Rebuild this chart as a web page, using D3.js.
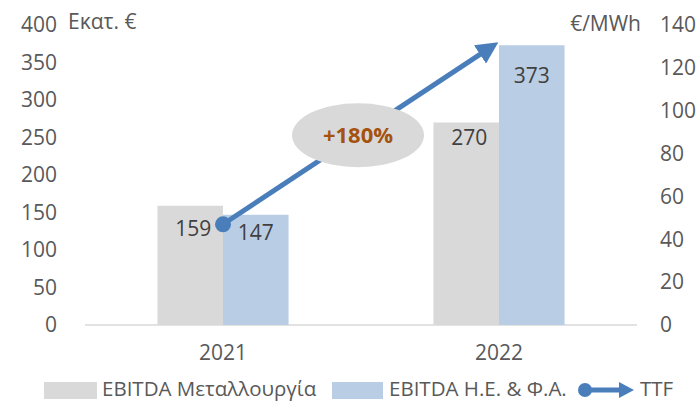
<!DOCTYPE html>
<meta charset="utf-8" />
<title>EBITDA vs TTF</title>
<script src="https://d3js.org/d3.v7.min.js"></script>
<style>
    body { margin: 0; background: #fff; }
    text { font-family: 'Open Sans', sans-serif; fill: #595959; }
    .tick text { font-size: 21px; }
    .lbl { font-size: 21px; fill: #404040; }
</style>
<svg id="chart" width="698" height="402"></svg>
<script>
var years = ['2021', '2022'];
var metal = [159, 270];
var energy = [147, 373];
var ttf = [47, 132];
var leftTicks = [0, 50, 100, 150, 200, 250, 300, 350, 400];
var rightTicks = [0, 20, 40, 60, 80, 100, 120, 140];
var seriesNames = ['EBITDA Μεταλλουργία', 'EBITDA Η.Ε. & Φ.Α.', 'TTF'];
var growthLabel = '+180%';

var svg = d3.select('#chart');
var margin = { top: 25, right: 61, bottom: 77, left: 85 },
    width = 698 - margin.left - margin.right,
    height = 402 - margin.top - margin.bottom;

var g = svg.append('g').attr('transform', 'translate(' + margin.left + ',' + margin.top + ')');

var x0 = d3.scaleBand().domain(years).range([0, width]).paddingInner(0.525).paddingOuter(0.2625);
var x1 = d3.scaleBand().domain([0, 1]).range([0, x0.bandwidth()]);
var y = d3.scaleLinear().domain([0, 400]).range([height, 0]);
var yR = d3.scaleLinear().domain([0, 140]).range([height, 0]);

// axes
var yAxis = g.append('g').call(d3.axisLeft(y).tickValues(leftTicks).tickSize(0).tickPadding(28));
yAxis.select('.domain').remove();
var yAxisR = g.append('g').attr('transform', 'translate(' + width + ',0)')
    .call(d3.axisRight(yR).tickValues(rightTicks).tickSize(0).tickPadding(23));
yAxisR.select('.domain').remove();
yAxisR.selectAll('text').attr('text-anchor', 'start');

g.append('line').attr('x1', 0).attr('x2', width).attr('y1', y(0)).attr('y2', y(0))
    .style('stroke', '#d9d9d9').style('stroke-width', 1.5);

var xAxis = g.append('g').attr('transform', 'translate(0,' + height + ')')
    .call(d3.axisBottom(x0).tickSize(0).tickPadding(20));
xAxis.select('.domain').remove();

// bars
var colors = ['#d9d9d9', '#b9cde5'];
var series = [metal, energy];
var labelDy = [[30, 25], [22, 38]];
series.forEach(function(vals, s) {
    g.selectAll('.bar' + s).data(vals).enter().append('rect')
        .attr('x', function(d, i) { return x0(years[i]) + x1(s); })
        .attr('width', x1.bandwidth())
        .attr('y', function(d) { return y(d); })
        .attr('height', function(d) { return height - y(d); })
        .style('fill', colors[s]);
    g.selectAll('.lbl' + s).data(vals).enter().append('text')
        .attr('class', 'lbl')
        .attr('text-anchor', 'middle')
        .attr('x', function(d, i) { return x0(years[i]) + x1(s) + x1.bandwidth() / 2 + (s == 0 ? 3 : 0); })
        .attr('y', function(d, i) { return y(d) + labelDy[i][s]; })
        .text(function(d) { return d; });
});

// TTF arrow
var lineColor = '#4a7ebb';
var defs = svg.append('defs');
defs.append('marker').attr('id', 'arr').attr('viewBox', '0 0 10 10')
    .attr('refX', 6).attr('refY', 5).attr('markerWidth', 4.4).attr('markerHeight', 4.4)
    .attr('orient', 'auto')
    .append('path').attr('d', 'M0,0 L10,5 L0,10 z').style('fill', lineColor);

var cx = function(i) { return x0(years[i]) + x0.bandwidth() / 2; };
g.append('line')
    .attr('x1', cx(0)).attr('y1', yR(ttf[0]))
    .attr('x2', cx(1) - 8).attr('y2', yR(ttf[1]) + 5)
    .style('stroke', lineColor).style('stroke-width', 5)
    .attr('marker-end', 'url(#arr)');
g.append('circle').attr('cx', cx(0)).attr('cy', yR(ttf[0])).attr('r', 8).style('fill', lineColor);

// ellipse callout
var ex = (cx(0) + cx(1)) / 2 - 3, ey = yR((ttf[0] + ttf[1]) / 2) + 2;
g.append('ellipse').attr('cx', ex).attr('cy', ey).attr('rx', 66).attr('ry', 32).style('fill', '#d9d9d9');
g.append('text').attr('x', ex).attr('y', ey + 8).attr('text-anchor', 'middle')
    .style('font-size', '22px').style('font-weight', 'bold').style('fill', '#a5520f')
    .text(growthLabel);

// unit labels
svg.append('text').attr('x', 68).attr('y', 29).style('font-size', '21px').text('Εκατ. €');
svg.append('text').attr('x', 641).attr('y', 31).attr('text-anchor', 'end').style('font-size', '21px').text('€/MWh');

// legend
var leg = svg.append('g').attr('transform', 'translate(0,381)');
leg.append('rect').attr('x', 44).attr('y', 1).attr('width', 53).attr('height', 17).style('fill', colors[0]);
leg.append('text').attr('x', 102).attr('y', 15).style('font-size', '20.5px').text(seriesNames[0]);
leg.append('rect').attr('x', 332).attr('y', 1).attr('width', 51).attr('height', 17).style('fill', colors[1]);
leg.append('text').attr('x', 389).attr('y', 15).style('font-size', '20.5px').text(seriesNames[1]);
leg.append('line').attr('x1', 585).attr('x2', 622).attr('y1', 9).attr('y2', 9)
    .style('stroke', lineColor).style('stroke-width', 5);
leg.append('path').attr('d', 'M619,1 L634,9 L619,17 z').style('fill', lineColor);
leg.append('circle').attr('cx', 585).attr('cy', 9).attr('r', 7).style('fill', lineColor);
leg.append('text').attr('x', 640).attr('y', 15).style('font-size', '20.5px').text(seriesNames[2]);
</script>
